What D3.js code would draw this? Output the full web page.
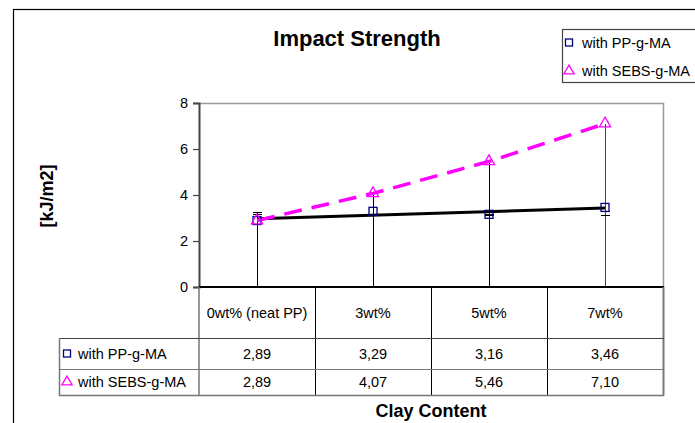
<!DOCTYPE html>
<html>
<head>
<meta charset="utf-8">
<script src="https://cdn.jsdelivr.net/npm/d3@7"></script>
<style>
  html, body { margin: 0; padding: 0; background: #fff; }
  svg { display: block; }
  text { font-family: "Liberation Sans", Arial, sans-serif; fill: #000; }
</style>
</head>
<body>
<svg id="chart" width="695" height="423"></svg>
<script>
// Impact strength vs. clay content, two compatibilizers
const categories = ["0wt% (neat PP)", "3wt%", "5wt%", "7wt%"];
const ppValues = [2.89, 3.29, 3.16, 3.46];      // with PP-g-MA
const sebsValues = [2.89, 4.07, 5.46, 7.10];    // with SEBS-g-MA
const ppErrorCaps = [[3.15, 3.22], [], [3.12, 3.16], [3.13, 3.28]];
const seriesNames = ["with PP-g-MA", "with SEBS-g-MA"];
const yTicks = [0, 2, 4, 6, 8];
const valueLabel = v => d3.format(".2f")(v).replace(".", ",");

const svg = d3.select("#chart");
const plot = { left: 199, right: 663, top: 103, bottom: 287 };

const x = d3.scaleBand().domain(categories).range([plot.left, plot.right]).padding(0);
const y = d3.scaleLinear().domain([0, 8]).range([plot.bottom, plot.top]);
const cx = c => x(c) + x.bandwidth() / 2;

// outer chart frame
svg.append("rect")
  .attr("x", 13.5).attr("y", 9.5).attr("width", 720).attr("height", 440)
  .attr("fill", "#fff").attr("stroke", "#000").attr("stroke-width", 1.2);

// title
svg.append("text")
  .attr("x", 357).attr("y", 46)
  .attr("text-anchor", "middle")
  .style("font-size", "22px").style("font-weight", "bold")
  .text("Impact Strength");

// plot area border (top and right)
svg.append("path")
  .attr("d", `M${plot.left},${plot.top + 0.5}H${plot.right + 0.5}V${plot.bottom}`)
  .attr("fill", "none").attr("stroke", "#999").attr("stroke-width", 1.5);

// y axis
const yAxis = d3.axisLeft(y).tickValues(yTicks).tickSize(6).tickPadding(5).tickFormat(d3.format("d"));
const gy = svg.append("g").attr("transform", `translate(${plot.left},0)`).call(yAxis);
gy.select(".domain").attr("stroke", "#444").attr("stroke-width", 2);
gy.selectAll(".tick line").attr("stroke", "#444").attr("stroke-width", 1.2);
gy.selectAll(".tick text")
  .style("font-size", "14.5px")
  .style("font-family", "'Liberation Sans', Arial, sans-serif")
  .attr("fill", "#000");

// y axis title
svg.append("text")
  .attr("transform", `translate(53,196) rotate(-90)`)
  .attr("text-anchor", "middle")
  .style("font-size", "18px").style("font-weight", "bold")
  .text("[kJ/m2]");

// vertical drop lines from zero to the top of each category's values
categories.forEach((c, i) => {
  const top = d3.max([ppValues[i], sebsValues[i], ...ppErrorCaps[i]]);
  svg.append("line")
    .attr("x1", cx(c) + 0.5).attr("x2", cx(c) + 0.5)
    .attr("y1", y(0)).attr("y2", y(top))
    .attr("stroke", i === 3 ? "#444" : "#000").attr("stroke-width", 1)
    .attr("shape-rendering", "crispEdges");
});

// error bar caps for PP-g-MA
categories.forEach((c, i) => {
  ppErrorCaps[i].forEach(v => {
    svg.append("line")
      .attr("x1", cx(c) - 4).attr("x2", cx(c) + 5)
      .attr("y1", y(v)).attr("y2", y(v))
      .attr("stroke", "#000").attr("stroke-width", 1)
      .attr("shape-rendering", "crispEdges");
  });
});

// linear trend for PP-g-MA
const idx = d3.range(ppValues.length);
const mx = d3.mean(idx), my = d3.mean(ppValues);
const slope = d3.sum(idx, i => (i - mx) * (ppValues[i] - my)) / d3.sum(idx, i => (i - mx) ** 2);
const intercept = my - slope * mx;
svg.append("line")
  .attr("x1", cx(categories[0])).attr("y1", y(intercept))
  .attr("x2", cx(categories[3])).attr("y2", y(intercept + slope * 3))
  .attr("stroke", "#000").attr("stroke-width", 3);

// SEBS-g-MA dashed line
svg.append("path")
  .datum(sebsValues)
  .attr("d", d3.line().x((d, i) => cx(categories[i])).y(d => y(d)))
  .attr("fill", "none").attr("stroke", "#ff00ff").attr("stroke-width", 3.5)
  .attr("stroke-dasharray", "18,10");

// markers
const sq = 8;
svg.append("g").selectAll("rect").data(ppValues).join("rect")
  .attr("x", (d, i) => cx(categories[i]) - sq / 2)
  .attr("y", d => y(d) - sq / 2)
  .attr("width", sq).attr("height", sq)
  .attr("fill", "none").attr("stroke", "#000080").attr("stroke-width", 1.3);

const tri = d3.symbol().type(d3.symbolTriangle).size(55);
svg.append("g").selectAll("path").data(sebsValues).join("path")
  .attr("transform", (d, i) => `translate(${cx(categories[i])},${y(d)})`)
  .attr("d", tri)
  .attr("fill", "none").attr("stroke", "#ff00ff").attr("stroke-width", 1.3);

// x axis line
svg.append("line")
  .attr("x1", plot.left).attr("x2", plot.right + 1)
  .attr("y1", plot.bottom).attr("y2", plot.bottom)
  .attr("stroke", "#000").attr("stroke-width", 2);

// data table under the plot
const tbl = { labelLeft: 59, headerBottom: 338, row1Bottom: 369, bottom: 395 };
const gridGray = "#777";

// header cells
categories.forEach((c, i) => {
  svg.append("text")
    .attr("x", cx(c)).attr("y", (plot.bottom + tbl.headerBottom) / 2 + 5)
    .attr("text-anchor", "middle")
    .style("font-size", "14.5px")
    .text(c);
});
// inner vertical separators
categories.slice(1).forEach(c => {
  svg.append("line")
    .attr("x1", x(c) + 0.5).attr("x2", x(c) + 0.5)
    .attr("y1", plot.bottom).attr("y2", tbl.bottom)
    .attr("stroke", "#000").attr("stroke-width", 1)
    .attr("shape-rendering", "crispEdges");
});
// left and right edges of the value area
svg.append("line")
  .attr("x1", plot.left).attr("x2", plot.left)
  .attr("y1", plot.bottom).attr("y2", tbl.bottom)
  .attr("stroke", gridGray).attr("stroke-width", 1.5);
svg.append("line")
  .attr("x1", plot.right + 0.5).attr("x2", plot.right + 0.5)
  .attr("y1", plot.bottom).attr("y2", tbl.bottom + 0.5)
  .attr("stroke", gridGray).attr("stroke-width", 2);
// row lines
[tbl.headerBottom, tbl.row1Bottom, tbl.bottom].forEach((yy, k) => {
  svg.append("line")
    .attr("x1", tbl.labelLeft).attr("x2", plot.right + 1)
    .attr("y1", yy + 0.5).attr("y2", yy + 0.5)
    .attr("stroke", k === 0 ? "#444" : gridGray).attr("stroke-width", k === 2 ? 1.5 : 1.2);
});
svg.append("line")
  .attr("x1", tbl.labelLeft + 0.5).attr("x2", tbl.labelLeft + 0.5)
  .attr("y1", tbl.headerBottom).attr("y2", tbl.bottom + 1)
  .attr("stroke", gridGray).attr("stroke-width", 1.5);

// table rows: legend key, label, values
const rows = [
  { name: seriesNames[0], values: ppValues, top: tbl.headerBottom, bottom: tbl.row1Bottom, kind: "square" },
  { name: seriesNames[1], values: sebsValues, top: tbl.row1Bottom, bottom: tbl.bottom, kind: "triangle" }
];

function drawKey(g, kind, kx, ky) {
  if (kind === "square") {
    g.append("rect").attr("x", kx - 3.5).attr("y", ky - 3.5).attr("width", 7).attr("height", 7)
      .attr("fill", "none").attr("stroke", "#000080").attr("stroke-width", 1.3);
  } else {
    g.append("path").attr("transform", `translate(${kx},${ky})`)
      .attr("d", d3.symbol().type(d3.symbolTriangle).size(45))
      .attr("fill", "none").attr("stroke", "#ff00ff").attr("stroke-width", 1.3);
  }
}

rows.forEach(r => {
  const mid = (r.top + r.bottom) / 2;
  drawKey(svg, r.kind, 67, mid);
  svg.append("text")
    .attr("x", 78).attr("y", mid + 5)
    .style("font-size", "14.5px")
    .text(r.name);
  r.values.forEach((v, i) => {
    svg.append("text")
      .attr("x", cx(categories[i])).attr("y", mid + 5)
      .attr("text-anchor", "middle")
      .style("font-size", "14.5px")
      .text(valueLabel(v));
  });
});

// x axis title
svg.append("text")
  .attr("x", (plot.left + plot.right) / 2).attr("y", 417)
  .attr("text-anchor", "middle")
  .style("font-size", "18px").style("font-weight", "bold")
  .text("Clay Content");

// legend
const lg = svg.append("g");
lg.append("rect")
  .attr("x", 562.5).attr("y", 29.5).attr("width", 150).attr("height", 53)
  .attr("fill", "#fff").attr("stroke", "#444").attr("stroke-width", 1.2);
[["square", 42.5], ["triangle", 71]].forEach(([kind, ly], i) => {
  drawKey(lg, kind, 569, ly);
  lg.append("text")
    .attr("x", 582).attr("y", ly + 5)
    .style("font-size", "14.5px")
    .text(seriesNames[i]);
});
</script>
</body>
</html>
